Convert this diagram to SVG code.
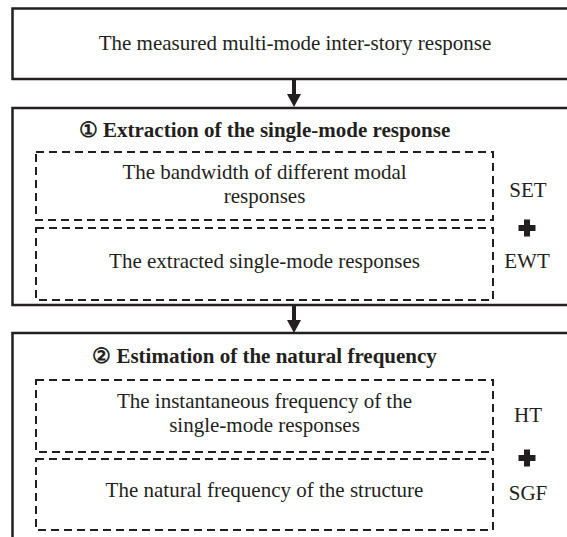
<svg xmlns="http://www.w3.org/2000/svg" width="567" height="537" viewBox="0 0 567 537">
<defs>
<style>
.box{fill:#fff;stroke:#231f20;stroke-width:2.5}
.dash{fill:none;stroke:#231f20;stroke-width:2;stroke-dasharray:8,5}
.t{font-family:"Liberation Serif",serif;font-size:21px;fill:#231f20;text-anchor:middle}
.b{font-weight:bold}
.conn{stroke:#231f20;stroke-width:4;fill:none}
</style>
<path id="plus" d="M-3,-8.5H3V-3H8.5V3H3V8.5H-3V3H-8.5V-3H-3Z" fill="#231f20"/>
</defs>
<g id="connectors">
<line class="conn" x1="294" y1="79" x2="294" y2="95"/>
<path d="M287,94 H301 L294,107 Z" fill="#231f20"/>
<line class="conn" x1="294" y1="305" x2="294" y2="321"/>
<path d="M287,320 H301 L294,333 Z" fill="#231f20"/>
</g>
<g id="top">
<rect class="box" x="12.5" y="8.5" width="600" height="70.5"/>
<text class="t" x="295" y="50">The measured multi-mode inter-story response</text>
</g>
<g id="stage1">
<rect class="box" x="12.5" y="108" width="600" height="197"/>
<text class="t b" x="264.5" y="137">① Extraction of the single-mode response</text>
</g>
<g id="bandwidth">
<path class="dash" d="M36,152 H493 V220 H36 Z"/>
<text class="t" x="264.5" y="179">The bandwidth of different modal</text>
<text class="t" x="264.5" y="203">responses</text>
</g>
<g id="extracted">
<path class="dash" d="M36,228 H493 V300 H36 Z"/>
<text class="t" x="264.5" y="268">The extracted single-mode responses</text>
</g>
<g id="methods1">
<text class="t" x="528" y="197">SET</text>
<use href="#plus" x="527" y="228"/>
<text class="t" x="527" y="268">EWT</text>
</g>
<g id="stage2">
<rect class="box" x="12.5" y="333" width="600" height="220"/>
<text class="t b" x="264.5" y="363">② Estimation of the natural frequency</text>
</g>
<g id="instantaneous">
<path class="dash" d="M36,380 H493 V452 H36 Z"/>
<text class="t" x="264.5" y="408">The instantaneous frequency of the</text>
<text class="t" x="264.5" y="432">single-mode responses</text>
</g>
<g id="natural">
<path class="dash" d="M36,459 H493 V530 H36 Z"/>
<text class="t" x="264.5" y="497">The natural frequency of the structure</text>
</g>
<g id="methods2">
<text class="t" x="528" y="422">HT</text>
<use href="#plus" x="527" y="458"/>
<text class="t" x="528" y="500">SGF</text>
</g>
</svg>
